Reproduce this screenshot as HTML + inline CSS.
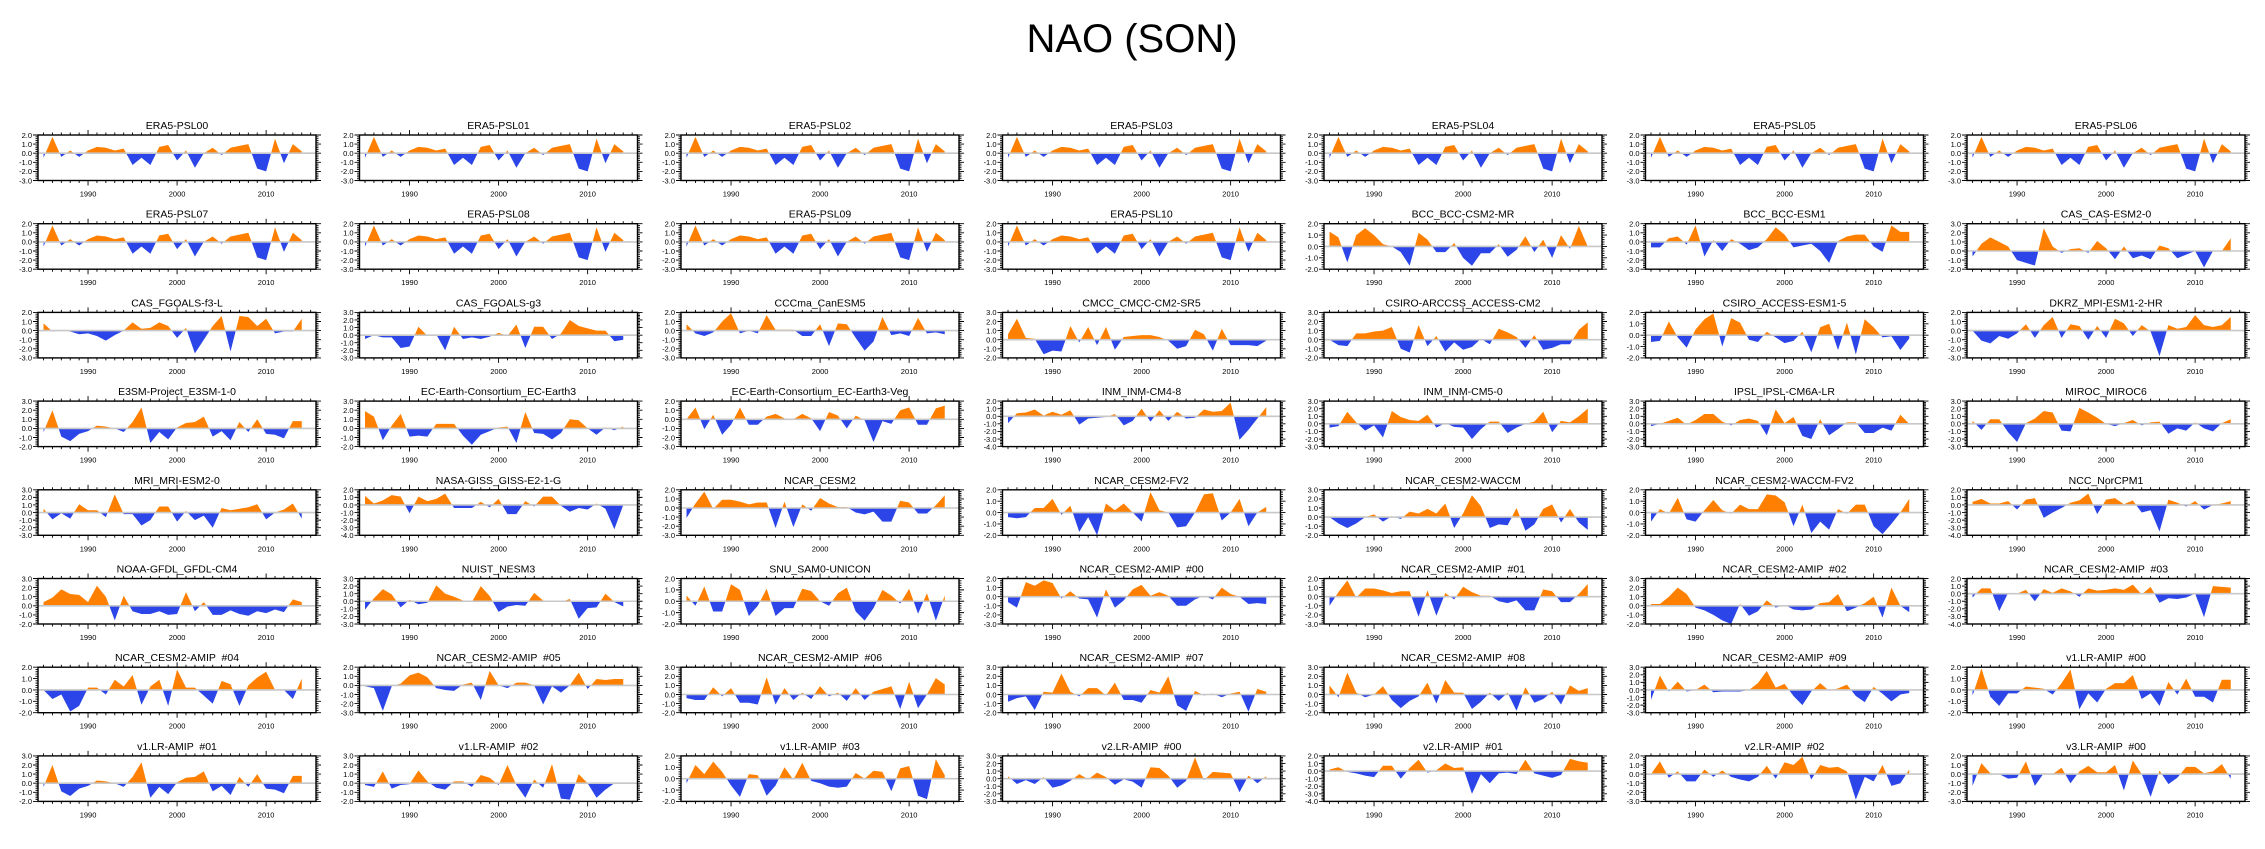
<!DOCTYPE html>
<html><head><meta charset="utf-8"><title>NAO (SON)</title>
<style>
html,body{margin:0;padding:0;background:#fff;}
svg{display:block;font-family:"Liberation Sans",Arial,sans-serif;}
svg text{white-space:pre;}
</style></head>
<body>
<svg id="chart" width="2265" height="849" viewBox="0 0 2265 849" xmlns="http://www.w3.org/2000/svg">
<rect width="2265" height="849" fill="#fff"/>
<text x="1132" y="52" font-size="40" text-anchor="middle" fill="#000">NAO (SON)</text>
<g id="panels"></g>
</svg>
<script>
const years = [1985,1986,1987,1988,1989,1990,1991,1992,1993,1994,1995,1996,1997,1998,1999,2000,2001,2002,2003,2004,2005,2006,2007,2008,2009,2010,2011,2012,2013,2014];
const xTickYears = [1990,2000,2010];

const sEra = [-0.5,1.8,-0.4,0.3,-0.4,0.3,0.7,0.6,0.3,0.5,-1.3,-0.5,-1.3,0.7,0.9,-0.8,0.3,-1.6,0.0,0.6,-0.2,0.6,0.8,1.0,-1.7,-2.0,1.6,-1.1,1.0,0.2];
const sBccCsm = [1.3,0.8,-1.4,1.0,1.6,1.0,0.2,0,-0.5,-1.7,1.2,0.6,-0.5,-0.5,0.3,-1.0,-1.7,-0.6,-0.6,0.2,-0.9,-0.3,0.9,-0.5,0.6,-1.0,1.0,-0.2,1.8,0.0];
const sBccEsm = [-0.6,-0.6,0.4,0.6,-0.3,1.8,-1.6,0.2,-1.0,0.3,-0.2,-0.9,-0.6,0.3,1.6,0.8,-0.6,-0.4,-0.2,-1.0,-2.3,0.1,0.6,0.8,0.8,-0.5,-1.1,1.8,1.1,1.1];
const sCasEsm = [-0.6,0.8,1.5,1.0,0.5,-1.0,-1.3,-1.6,2.5,0.5,-0.2,0.2,0.3,-0.2,1.1,0.3,-0.9,0.5,-0.8,-0.5,-0.9,0.6,0.3,-0.8,-0.4,0,-1.8,0,0,1.4];
const sFgoalsF3 = [0.8,-0.1,0.1,-0.1,-0.4,-0.3,-0.6,-1.1,-0.5,0,0.9,0.2,0.3,0.9,0.5,-0.8,0.3,-2.5,-1.0,0.5,1.6,-2.3,1.6,1.5,0.5,1.3,-0.3,-0.1,-0.1,1.3];
const sFgoalsG3 = [-0.5,0,-0.3,-0.3,-1.7,-1.5,1.1,-0.1,0.1,-2.0,1.1,-0.5,-0.3,-0.5,-0.2,0.3,-0.1,1.4,-1.7,1.1,1.1,-0.5,0.2,2.0,1.2,0.9,0.6,0.6,-0.8,-0.6];
const sCanEsm = [0.7,-0.3,-0.6,-0.2,1.0,1.9,-0.3,0.0,-0.3,1.7,0.1,0.1,0.1,-0.6,-0.6,0.7,-1.7,0.8,0.7,-0.8,-2.2,-1.2,1.5,-0.5,-0.3,-0.6,1.4,-0.3,-0.2,-0.4];
const sCmcc = [0.6,2.3,0.2,0.1,-1.6,-1.2,-1.3,1.5,-0.3,1.4,-0.6,1.4,-1.1,0.3,0.4,0.5,0.5,0.3,-0.1,-1.0,-0.7,1.1,0.6,-1.2,1.2,-0.6,-0.6,-0.6,-0.7,-0.1];
const sAccessCm2 = [0,-0.6,-0.7,0.7,0.7,0.9,1.0,1.4,-1.0,-1.4,1.6,-0.7,0.4,-1.3,-0.3,-1.1,-0.8,0.1,-0.5,1.2,0.8,0.3,-0.9,0.5,-1.1,-0.9,-0.5,-0.5,1.1,1.9];
const sAccessEsm = [-0.6,-0.5,1.2,-0.2,-1.1,0.5,1.4,1.9,-1.0,1.5,1.1,-0.4,-0.6,0.3,-0.2,-0.7,-0.5,0.3,-1.5,0.7,1.0,-1.3,1.1,-1.7,1.4,0.7,-0.2,-0.1,-1.3,-0.3];
const sMpiHr = [0,-1.1,-1.4,-0.6,-0.9,-0.3,0.7,-0.8,0.6,1.5,-0.8,0.7,0.5,-1.0,0.5,-0.8,1.3,0.8,-0.6,0.6,-0.1,-2.8,0.6,0.2,0.4,1.7,0.6,0.4,0.6,1.5];
const sE3sm = [-0.4,2.0,-0.9,-1.4,-0.6,-0.3,0.3,0.2,0,-0.4,0.7,2.3,-1.6,-0.4,-1.2,0.1,0.6,0.7,1.3,-0.9,-0.3,-1.3,0.7,-0.4,1.0,-0.6,-0.7,-1.1,0.8,0.8];
const sEcEarth = [1.9,1.3,-1.3,0.3,1.6,-0.9,-0.8,-0.9,0.5,0.5,0.5,-0.8,-1.8,-0.7,-0.3,0.1,0.2,-1.6,1.8,-0.5,-0.6,-1.2,-0.5,1.0,0.9,0,-0.7,0.1,-0.2,0.2];
const sEcEarthVeg = [0,1.3,-1.1,0.5,-1.7,-0.6,1.3,-0.6,-0.6,0.3,0.6,0.1,0,0.6,0.1,-1.3,0.8,0.4,-1.0,0.4,-0.1,-2.5,-0.2,-0.5,1.0,1.3,-0.6,-0.6,1.2,1.5];
const sInmCm4 = [-0.9,0.4,0.5,0.9,0.1,0.6,0.2,0.8,-1.1,-0.3,-0.2,-0.1,0.3,-1.2,-0.6,1.0,-0.7,0.8,-0.6,0.6,-0.3,-0.2,0.9,0.6,0.7,1.8,-3.1,-1.8,-0.3,1.2];
const sInmCm5 = [-0.5,-0.3,1.6,0.2,-0.9,-0.2,-1.8,1.7,0.9,0.5,0.4,1.2,-0.5,0.1,-0.4,-0.5,-2.0,-0.7,0.3,0.3,-1.2,-0.5,0,0.3,1.6,-1.1,0.4,0.2,1.0,2.0];
const sIpsl = [-0.3,0,0.4,0.8,-0.1,0.5,1.3,1.3,0.3,-0.2,0.5,0.7,0.4,-1.5,1.9,0.1,0.9,-1.6,-2.0,0.6,-1.5,-0.7,0.2,0.2,-1.2,-1.2,-0.5,-0.9,1.2,0];
const sMiroc = [0.4,-0.8,0.6,0.6,-1.1,-2.4,0.1,0.7,1.7,1.5,-0.9,-1.0,2.1,1.5,0.8,0,-0.3,0.1,0.5,-0.2,0.2,0.3,-1.3,-0.6,-0.9,0.2,-0.6,-1.0,0.1,0.6];
const sMri = [0.5,-0.9,-0.1,-0.8,1.1,0.3,0.3,-0.6,2.4,-0.2,-0.2,-1.7,-1.0,0.8,0.8,-1.2,0.2,-1.0,-0.4,-2.0,0.6,0.3,0.5,0.7,1.1,-0.9,0,0.4,1.2,-0.8];
const sGiss = [1.2,0.2,0.6,1.3,1.1,-1.1,1.1,0.5,0.8,1.5,-0.4,-0.4,-0.4,0.4,-0.3,0.8,-1.2,-1.2,0.5,-0.2,1.1,1.1,-0.1,-0.9,-0.4,-0.6,0.2,-0.5,-3.2,0];
const sCesm2 = [-1.1,0.5,1.8,-0.1,0.9,0.9,0.7,0.4,0.6,0.6,-2.2,0.7,-2.1,0.4,-0.3,1.1,0.5,0.1,0.1,-0.5,-0.7,-0.4,-1.5,-1.5,0.8,0.6,-0.6,-0.6,0.3,1.4];
const sCesm2Fv2 = [-0.4,-0.5,-0.4,0.4,0.4,1.2,-0.2,0.6,-1.7,-0.4,-2.0,0.8,0.2,0.8,0,-0.8,1.8,0.2,0,-1.3,-1.2,0,1.6,1.7,-0.7,0,1.2,-1.2,0,0.5];
const sWaccm = [0,-0.7,-1.2,-0.7,0,0.3,-0.5,0.1,-0.2,0.6,0.4,0.9,0.4,1.5,-1.2,0.4,2.4,1.2,-1.2,-0.8,-0.9,1.0,-1.5,-0.8,0.9,1.4,-0.6,0.9,-0.6,-1.4];
const sWaccmFv2 = [-0.8,0.3,-0.1,1.3,-0.6,-0.8,0.2,1.1,0.2,-0.1,0.7,0.3,0.3,1.6,1.5,0.9,-1.2,0.7,-1.8,-0.8,-1.5,0.3,-0.1,0.7,0.7,-1.2,-1.9,-1.0,0,1.2];
const sNorCpm = [0.4,0.8,0.2,0.2,0.5,-0.6,0.7,0.9,-1.7,-1.0,-0.4,0.3,0.6,1.5,-1.2,0.7,0.9,0.1,0.6,-1.0,-0.7,-3.5,0.7,0.3,-0.2,0.5,-0.6,0,0.2,0.5];
const sGfdl = [0.4,0.9,1.8,1.3,1.2,0.4,2.2,1.0,-1.6,1.1,-0.6,-0.9,-0.9,-0.6,-1.0,-0.9,1.5,-0.6,0.4,-1.0,-1.0,-0.5,-0.9,-1.1,-0.6,-0.8,-0.4,-0.7,0.7,0.4];
const sNesm = [-1.1,0.4,1.6,0.9,-0.8,0.2,-0.4,-0.2,2.1,1.0,0.6,0.1,-0.1,2.0,0.7,-1.4,-0.7,-0.5,-0.6,1.1,0.1,0.1,-0.1,0.3,-2.3,-0.9,-0.8,1.0,-0.1,-0.7];
const sSnu = [0.5,-0.4,1.3,-0.9,-0.9,1.5,1.0,-1.3,-0.4,1.1,-1.3,-0.6,-0.6,1.1,0.9,0,-0.4,0.7,1.2,-0.9,-1.7,-0.6,1.0,0.5,-0.2,1.1,-1.1,0.7,-1.7,0.5];
const sAmip00 = [-0.6,-1.2,1.6,1.2,1.8,1.5,-0.2,0.6,-0.2,-0.3,-2.3,0.8,-1.2,-0.4,0.8,1.3,0.1,0.5,0.1,-1.0,-1.0,-0.3,0.1,-0.3,1.0,0.3,0,-0.8,-0.7,-0.8];
const sAmip01 = [-1.0,0.5,1.8,-0.1,0.9,0.9,0.7,0.4,0.6,0.6,-2.2,0.7,-2.1,0.4,-0.3,1.1,0.5,0.1,0.1,-0.5,-0.7,-0.4,-1.5,-1.5,0.8,0.6,-0.6,-0.6,0.3,1.4];
const sAmip02 = [0.2,0.2,1.0,2.0,1.3,-0.2,-0.5,-1.0,-1.6,-2.0,0.2,-1.1,-0.6,0.6,-0.2,0.1,-0.4,-0.5,-0.4,0.3,0.4,1.3,-0.6,-0.2,0.3,1.0,-1.3,2.0,0,-0.7];
const sAmip03 = [-0.5,0.7,0.7,-2.3,0.1,0,0.5,-1.0,0.6,0.1,0.7,0.3,-0.4,0.7,0.4,0.5,0.7,0.5,1.2,-0.1,0.9,-1.2,-0.6,-0.7,-0.5,0,-3.1,1.0,0.9,0.8];
const sAmip04 = [0,-0.8,-0.4,-1.9,-1.4,0.2,0.2,-0.4,0.9,0.3,1.3,-1.3,0.3,0.9,-1.4,1.8,0.2,0.2,-0.5,-1.2,0.8,0.5,-1.4,0.4,1.1,1.6,0,0,-0.8,1.0];
const sAmip05 = [-0.1,-0.3,-2.8,-0.1,0.2,1.1,1.4,0.9,-0.3,-0.5,-0.6,0.1,0.3,-1.6,1.6,0,-0.3,0.3,0.3,0,-2.1,-0.1,-0.8,0,1.4,-0.4,0.7,0.6,0.7,0.7];
const sAmip06 = [-0.4,-0.6,-0.6,0.8,-0.2,0.7,-0.9,-0.9,-1.1,1.9,-1.1,0.7,-0.6,0.2,-0.5,0.9,-0.2,0.2,-0.7,0.7,-0.6,0.3,0.6,0.9,-1.6,1.4,-1.5,0,1.8,1.1];
const sAmip07 = [-0.8,-0.4,-0.2,-1.7,0.3,0.2,2.3,0.3,-0.2,0.7,0.7,-0.1,1.3,-0.6,-0.6,-0.9,0.5,0.2,2.0,-1.2,-1.8,0.4,-0.1,0.1,-0.3,0.1,0.3,-1.9,0.6,0.3];
const sAmip08 = [1.0,-0.3,2.4,0.2,-0.3,0,0.9,-0.6,-1.5,-0.7,-0.2,1.3,-1.0,1.6,0.2,0.2,-1.6,-0.8,0.2,-0.7,0.2,-1.8,0.8,-0.9,-0.5,0.3,-1.1,1.0,0.4,0.7];
const sAmip09 = [-1.3,1.9,-0.2,1.1,-0.2,0,0.7,-0.3,-0.2,-0.2,-0.2,0,0.9,2.5,0.3,0.8,-0.8,-2.0,-0.2,0.9,-0.1,0.2,0.7,-0.8,-1.6,0.4,-0.5,-1.5,-0.6,-0.4];
const sV1Lr00 = [-0.5,1.9,-0.6,-1.4,-0.3,-0.3,0.3,0.2,0.1,-0.4,0.6,1.8,-1.7,-0.3,-1.1,0.1,0.6,0.6,1.3,-0.8,-0.3,-1.4,0.7,-0.4,1.0,-0.6,-0.6,-1.1,0.9,0.9];
const sV1Lr02 = [-0.2,-0.4,1.3,-0.6,-0.2,-0.1,1.4,0.2,-0.5,-0.7,0.2,0.2,-0.4,0.9,0.6,-0.2,2.0,-0.2,-1.6,0.4,-0.5,2.1,-1.7,-1.8,1.0,0,-1.6,-0.7,0,0];
const sV1Lr03 = [-0.4,1.2,0.4,1.5,0.6,-0.6,-1.6,0.4,0.3,-1.5,-0.6,1.0,-0.1,1.4,-0.2,-0.4,-0.7,-0.8,-0.7,0.5,0,0.7,0.6,-1.1,0.9,1.1,-1.5,-1.8,1.7,0.3];
const sV2Lr00 = [0.3,-0.7,-0.2,-0.7,0.2,-1.2,-0.9,-0.3,0.6,-0.1,0.8,0.2,-0.8,-0.1,-0.4,-1.2,1.5,1.4,0.4,-1.2,-0.3,2.8,-0.2,0.9,0.8,0.7,-1.8,0.4,-0.6,0.3];
const sV2Lr01 = [0.2,0.5,-0.1,-0.3,-0.6,-0.8,0.7,0.7,-1.0,0.4,1.5,-0.2,0.1,1.0,0.4,0.5,-3.0,-0.4,-1.6,-0.3,-0.2,-0.4,1.5,-0.3,-0.6,-0.9,-0.5,1.6,1.3,1.1];
const sV2Lr02 = [0,1.4,-0.4,0.3,-0.8,-0.8,0.5,-0.3,0.4,-0.3,-0.6,-0.8,-0.3,0.9,-0.5,1.3,1.0,1.9,-0.6,1.0,0.7,0.8,0.3,-2.8,-0.3,-0.8,1.0,-1.3,-1.0,0.5];
const sV3Lr00 = [-1.3,1.2,0.1,0,-0.5,-0.4,1.4,-1.3,0.1,0,0.7,-1.0,0.3,0.9,0.2,0.2,1.0,-1.8,1.5,0.0,-2.5,0.4,-1.1,-0.4,0.8,0.8,0.1,0.3,1.1,-0.5];

const panelNames = ["ERA5-PSL00","ERA5-PSL01","ERA5-PSL02","ERA5-PSL03","ERA5-PSL04","ERA5-PSL05","ERA5-PSL06",
"ERA5-PSL07","ERA5-PSL08","ERA5-PSL09","ERA5-PSL10","BCC_BCC-CSM2-MR","BCC_BCC-ESM1","CAS_CAS-ESM2-0",
"CAS_FGOALS-f3-L","CAS_FGOALS-g3","CCCma_CanESM5","CMCC_CMCC-CM2-SR5","CSIRO-ARCCSS_ACCESS-CM2","CSIRO_ACCESS-ESM1-5","DKRZ_MPI-ESM1-2-HR",
"E3SM-Project_E3SM-1-0","EC-Earth-Consortium_EC-Earth3","EC-Earth-Consortium_EC-Earth3-Veg","INM_INM-CM4-8","INM_INM-CM5-0","IPSL_IPSL-CM6A-LR","MIROC_MIROC6",
"MRI_MRI-ESM2-0","NASA-GISS_GISS-E2-1-G","NCAR_CESM2","NCAR_CESM2-FV2","NCAR_CESM2-WACCM","NCAR_CESM2-WACCM-FV2","NCC_NorCPM1",
"NOAA-GFDL_GFDL-CM4","NUIST_NESM3","SNU_SAM0-UNICON","NCAR_CESM2-AMIP  #00","NCAR_CESM2-AMIP  #01","NCAR_CESM2-AMIP  #02","NCAR_CESM2-AMIP  #03",
"NCAR_CESM2-AMIP  #04","NCAR_CESM2-AMIP  #05","NCAR_CESM2-AMIP  #06","NCAR_CESM2-AMIP  #07","NCAR_CESM2-AMIP  #08","NCAR_CESM2-AMIP  #09","v1.LR-AMIP  #00",
"v1.LR-AMIP  #01","v1.LR-AMIP  #02","v1.LR-AMIP  #03","v2.LR-AMIP  #00","v2.LR-AMIP  #01","v2.LR-AMIP  #02","v3.LR-AMIP  #00"];

const seriesList = [sEra,sEra,sEra,sEra,sEra,sEra,sEra,
sEra,sEra,sEra,sEra,sBccCsm,sBccEsm,sCasEsm,
sFgoalsF3,sFgoalsG3,sCanEsm,sCmcc,sAccessCm2,sAccessEsm,sMpiHr,
sE3sm,sEcEarth,sEcEarthVeg,sInmCm4,sInmCm5,sIpsl,sMiroc,
sMri,sGiss,sCesm2,sCesm2Fv2,sWaccm,sWaccmFv2,sNorCpm,
sGfdl,sNesm,sSnu,sAmip00,sAmip01,sAmip02,sAmip03,
sAmip04,sAmip05,sAmip06,sAmip07,sAmip08,sAmip09,sV1Lr00,
sE3sm,sV1Lr02,sV1Lr03,sV2Lr00,sV2Lr01,sV2Lr02,sV3Lr00];

const yMinList = [-3,-3,-3,-3,-3,-3,-3, -3,-3,-3,-3,-2,-3,-2, -3,-3,-3,-2,-2,-2,-3, -2,-2,-3,-4,-3,-3,-3, -3,-4,-3,-2,-2,-2,-4, -2,-3,-2,-3,-3,-2,-4, -2,-3,-2,-2,-2,-3,-2, -2,-2,-2,-3,-4,-3,-3];
const yMaxList = [2,2,2,2,2,2,2, 2,2,2,2,2,2,3, 2,3,2,3,3,2,2, 3,3,2,2,3,3,3, 3,2,2,2,3,2,2, 3,3,2,2,2,3,2, 2,2,3,3,3,3,2, 3,3,2,3,2,2,2];

const NS = "http://www.w3.org/2000/svg";
const root = document.getElementById("panels");
const X0 = 38, COLP = 321.5, W = 278, Y0 = 135, ROWP = 88.7, H = 45.5;
const XMIN = 1984.38, XMAX = 2015.6;

function mk(tag, attrs, parent){
  const e = document.createElementNS(NS, tag);
  for (const k in attrs) e.setAttribute(k, attrs[k]);
  parent.appendChild(e);
  return e;
}

for (let p = 0; p < panelNames.length; p++) {
  const col = p % 7, row = Math.floor(p / 7);
  const L = X0 + col * COLP, T = Y0 + row * ROWP;
  const ymin = yMinList[p], ymax = yMaxList[p], vals = seriesList[p];
  const xs = v => L + (v - XMIN) / (XMAX - XMIN) * W;
  const ys = v => T + (ymax - v) / (ymax - ymin) * H;

  const g = mk("g", {}, root);
  
  

  const title = mk("text", {x: L + W/2, y: T - 6, "font-size": 10.5, "text-anchor": "middle", fill: "#000"}, g);
  title.textContent = panelNames[p];
  
  

  const pts = [];
  for (let i = 0; i < years.length; i++) {
    if (i > 0) {
      const a = vals[i-1], b = vals[i];
      if ((a > 0 && b < 0) || (a < 0 && b > 0)) {
        const t = a / (a - b);
        pts.push([years[i-1] + t * (years[i] - years[i-1]), 0]);
      }
    }
    pts.push([years[i], vals[i]]);
  }
  const z = ys(0);
  const x0 = xs(years[0]), x1 = xs(years[years.length-1]);
  let pos = "M" + x0 + "," + z, neg = "M" + x0 + "," + z;
  for (const [yr, v] of pts) {
    pos += " L" + xs(yr).toFixed(2) + "," + ys(Math.max(v, 0)).toFixed(2);
    neg += " L" + xs(yr).toFixed(2) + "," + ys(Math.min(v, 0)).toFixed(2);
  }
  pos += " L" + x1 + "," + z + " Z";
  neg += " L" + x1 + "," + z + " Z";
  const pa = mk("path", {d: pos, fill: "#ff8000", stroke: "none"}, g);
  
  
  const na = mk("path", {d: neg, fill: "#2b45e8", stroke: "none"}, g);
  
  

  const zl = mk("line", {x1: L, x2: L + W, y1: z, y2: z, stroke: "#c8c8c8", "stroke-width": 1.6}, g);
  
  

  let tk = "";
  for (let yr = 1985; yr <= 2015; yr++) {
    const x = xs(yr).toFixed(2);
    const major = yr % 10 === 0;
    const len = major ? 5 : 2.5;
    tk += "M" + x + "," + T + " V" + (T - len) + " M" + x + "," + (T + H) + " V" + (T + H + len) + " ";
  }
  for (let v = ymin; v <= ymax + 1e-9; v += 0.2) {
    const y = ys(v).toFixed(2);
    const major = Math.abs(v - Math.round(v)) < 1e-6;
    const len = major ? 5 : 2.5;
    tk += "M" + L + "," + y + " H" + (L - len) + " M" + (L + W) + "," + y + " H" + (L + W + len) + " ";
  }
  const ticks = mk("path", {d: tk, stroke: "#000", "stroke-width": 0.9, fill: "none"}, g);
  
  

  const frame = mk("rect", {x: L, y: T, width: W, height: H, fill: "none", stroke: "#000", "stroke-width": 1.4}, g);
  
  

  for (let v = ymin; v <= ymax; v += 1) {
    const t = mk("text", {x: L - 6, y: ys(v) + 2.8, "font-size": 7.5, "text-anchor": "end", fill: "#000"}, g);
    t.textContent = v.toFixed(1);
    
    
  }
  for (const yr of xTickYears) {
    const t = mk("text", {x: xs(yr), y: T + H + 16, "font-size": 7.5, "text-anchor": "middle", fill: "#000"}, g);
    t.textContent = String(yr);
    
    
  }
}
</script>
</body></html>
